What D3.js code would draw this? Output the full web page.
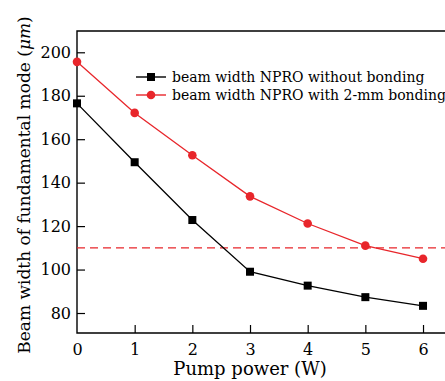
<!DOCTYPE html>
<html lang="en">
<head>
    <meta charset="UTF-8">
    <script src="https://d3js.org/d3.v7.min.js"></script>
    <title>Beam width vs pump power</title>
    <style>
        body { margin:0; background:#fff; }
        text { font-family:"DejaVu Serif", "Liberation Serif", serif; fill:#000; }
    </style>
</head>
<body>
    <script>
        var power = [0, 1, 2, 3, 4, 5, 6];
        var noBonding = [176.5, 149.4, 122.8, 99, 92.6, 87.3, 83.3];
        var withBonding = [195.6, 172.1, 152.6, 133.7, 121.2, 111, 105];
        var threshold = 110;
        var xTicks = [0, 1, 2, 3, 4, 5, 6];
        var yTicks = [80, 100, 120, 140, 160, 180, 200];
        var seriesNames = ["beam width NPRO without bonding", "beam width NPRO with 2-mm bonding"];

        var width = 445, height = 381;
        var mLeft = 77, mTop = 31, mBottom = 333;

        var x = d3.scaleLinear().domain([0, 6.4]).range([mLeft, mLeft + 6.4 * 57.67]);
        var y = d3.scaleLinear().domain([70.8, 209.8]).range([mBottom, mTop]);

        var svg = d3.select("body").append("svg").attr("width", width).attr("height", height);

        // axes, ticks pointing into the plot
        var xaxis = d3.axisBottom(x).tickValues(xTicks).tickFormat(d3.format("d")).tickSize(-8).tickPadding(11);
        var yaxis = d3.axisLeft(y).tickValues(yTicks).tickFormat(d3.format("d")).tickSize(-8).tickPadding(6);

        var gx = svg.append("g").attr("transform", "translate(0," + mBottom + ")").call(xaxis);
        var gy = svg.append("g").attr("transform", "translate(" + mLeft + ",0)").call(yaxis);
        [gx, gy].forEach(function (g) {
            g.select(".domain").remove();
            g.selectAll("line").attr("stroke", "#000").attr("stroke-width", 1.2);
            g.selectAll("text").style("font-size", "16px").attr("fill", "#000");
        });
        gx.selectAll(".tick").filter(function (d) { return d === 0; }).select("line").remove();

        // frame: left, bottom, top
        svg.append("path")
            .attr("d", "M" + width + "," + mTop + "H" + mLeft + "V" + mBottom + "H" + width)
            .attr("fill", "none").attr("stroke", "#000").attr("stroke-width", 1.4);

        // dashed reference line
        svg.append("line")
            .attr("x1", mLeft).attr("x2", width)
            .attr("y1", y(threshold)).attr("y2", y(threshold))
            .attr("stroke", "#e8262b").attr("stroke-width", 1.4).attr("stroke-dasharray", "8,5");

        var line = d3.line().x(function (d, i) { return x(power[i]); }).y(function (d) { return y(d); });

        svg.append("path").attr("d", line(noBonding))
            .attr("fill", "none").attr("stroke", "#000").attr("stroke-width", 1.3);
        svg.append("path").attr("d", line(withBonding))
            .attr("fill", "none").attr("stroke", "#e8262b").attr("stroke-width", 1.3);

        svg.selectAll(".sq").data(noBonding).enter().append("rect")
            .attr("x", function (d, i) { return x(power[i]) - 4; })
            .attr("y", function (d) { return y(d) - 4; })
            .attr("width", 8).attr("height", 8).attr("fill", "#000");
        svg.selectAll(".dot").data(withBonding).enter().append("circle")
            .attr("cx", function (d, i) { return x(power[i]); })
            .attr("cy", function (d) { return y(d); })
            .attr("r", 4.3).attr("fill", "#e8262b");

        // legend
        var lg = svg.append("g");
        [0, 1].forEach(function (i) {
            var ly = 77 + i * 18;
            var col = i === 0 ? "#000" : "#e8262b";
            lg.append("line").attr("x1", 136).attr("x2", 166).attr("y1", ly).attr("y2", ly)
                .attr("stroke", col).attr("stroke-width", 1.4);
            if (i === 0) {
                lg.append("rect").attr("x", 147).attr("y", ly - 4).attr("width", 8).attr("height", 8).attr("fill", col);
            } else {
                lg.append("circle").attr("cx", 151).attr("cy", ly).attr("r", 4.3).attr("fill", col);
            }
            lg.append("text").attr("x", 172).attr("y", ly + 5)
                .style("font-size", "14px").text(seriesNames[i]);
        });

        // axis titles
        svg.append("text").attr("x", 250).attr("y", 375).attr("text-anchor", "middle")
            .style("font-size", "18px").text("Pump power (W)");
        var yl = svg.append("text").attr("transform", "translate(30,185) rotate(-90)")
            .attr("text-anchor", "middle").style("font-size", "17px");
        yl.append("tspan").text("Beam width of fundamental mode (");
        yl.append("tspan").style("font-style", "italic").text("μm");
        yl.append("tspan").text(")");
    </script>
</body>
</html>
